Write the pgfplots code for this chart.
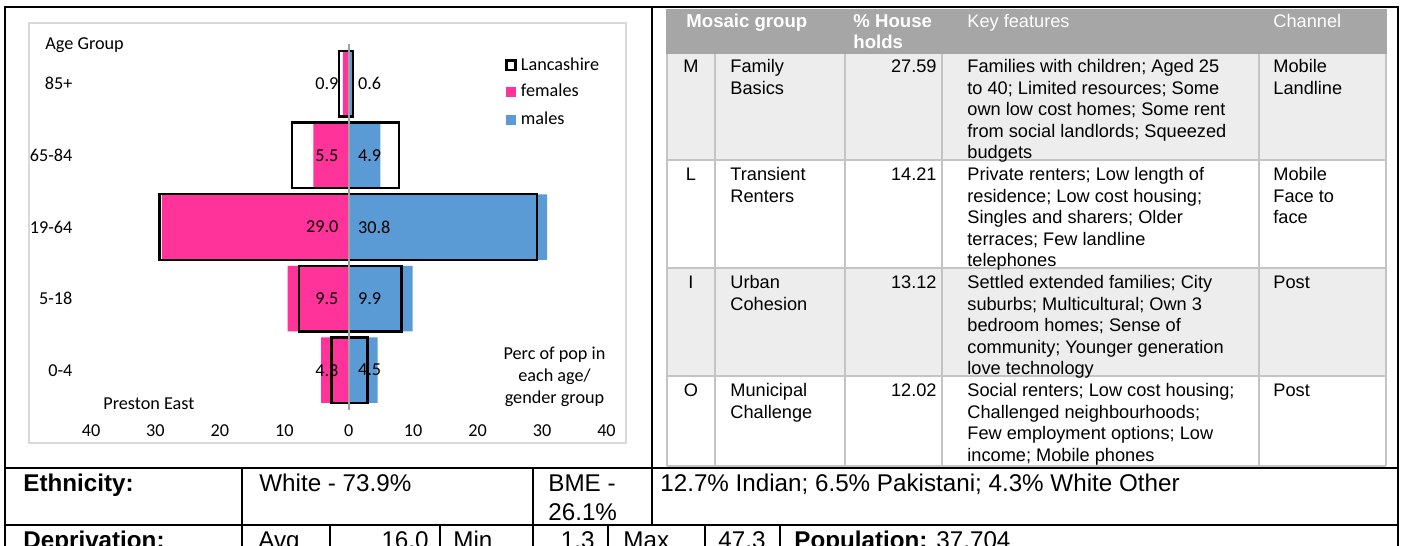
\documentclass[border=0pt]{standalone}
\usepackage{pgfplots}
\pgfplotsset{compat=1.18}
\usepackage{pgfplotstable}
\usepackage{fontspec}
\setmainfont{Liberation Sans}
\newfontfamily\calibri{Carlito}
\definecolor{fem}{HTML}{FF3399}
\definecolor{mal}{HTML}{5B9BD5}
\definecolor{hdr}{HTML}{A6A6A6}
\definecolor{rowg}{HTML}{EDEDED}
\definecolor{tline}{HTML}{C4C4C4}
\definecolor{cframe}{HTML}{D9D9D9}
\definecolor{zline}{HTML}{A0A0A0}
\newcommand\tf{\fontsize{9.1}{11}\selectfont}
\newcommand\hf{\fontsize{9.3}{11}\selectfont}
\newcommand\bigf{\fontsize{12.1}{14}\selectfont}
\newcommand\cf{\calibri\fontsize{9.1}{11}\selectfont}

\pgfplotstableread{
pos female male lfemale lmale
0 4.3 4.5 2.7 2.9
1 9.5 9.9 7.7 8.2
2 29.0 30.8 29.4 29.2
3 5.5 4.9 8.8 7.8
4 0.9 0.6 1.5 0.7
}\pyr

\newcommand\lines[3]{%
  \foreach \t [count=\i from 0] in {#3} {%
    \node[anchor=base west, inner sep=0pt, font=\tf] at (#1,{#2+21.5*\i}) {\t};}}

\begin{document}
\begin{tikzpicture}
\begin{scope}[x=0.5pt,y=-0.5pt]
\useasboundingbox (0,0) rectangle (1405,546);
\fill[white] (0,0) rectangle (1405,546);
% chart area frame
\draw[cframe, line width=0.7pt] (29,23) rectangle (626,443);
% table fills
\fill[hdr] (666,9) rectangle (1387,54);
\fill[rowg] (667,54) rectangle (1386,160);
\fill[rowg] (667,268) rectangle (1386,376);
\draw[tline, line width=0.6pt] (667,54)--(667,466) (715,54)--(715,466) (845,54)--(845,466)
  (942,54)--(942,466) (1259,54)--(1259,466) (1386,54)--(1386,466);
\draw[tline, line width=0.6pt] (667,160)--(1386,160) (667,268)--(1386,268)
  (667,376)--(1386,376) (667,466)--(1386,466);
% black frame lines
\draw[black, line width=1pt, line cap=rect] (5,7)--(1398,7) (5,7)--(5,560) (1398,7)--(1398,560)
  (652,7)--(652,525) (5,468)--(1398,468) (5,525)--(1398,525)
  (242,468)--(242,560) (533,468)--(533,560)
  (330,525)--(330,560) (440,525)--(440,560) (608,525)--(608,560)
  (705,525)--(705,560) (780,525)--(780,560);
% header
\node[anchor=base west, inner sep=0pt, text=white, font=\hf\bfseries] at (686,27.4) {Mosaic group};
\node[anchor=base west, inner sep=0pt, text=white, font=\hf\bfseries] at (853,27.4) {\% House};
\node[anchor=base west, inner sep=0pt, text=white, font=\hf\bfseries] at (853,48.9) {holds};
\node[anchor=base west, inner sep=0pt, text=white, font=\tf] at (967,27.4) {Key features};
\node[anchor=base west, inner sep=0pt, text=white, font=\tf] at (1273,27.4) {Channel};
% row M
\node[anchor=base, inner sep=0pt, font=\tf] at (691,72.7) {M};
\lines{730}{72.7}{Family,Basics}
\node[anchor=base east, inner sep=0pt, font=\tf] at (937,72.7) {27.59};
\lines{967}{72.7}{{Families with children; Aged 25},{to 40; Limited resources; Some},{own low cost homes; Some rent},{from social landlords; Squeezed},budgets}
\lines{1273}{72.7}{Mobile,Landline}
% row L
\node[anchor=base, inner sep=0pt, font=\tf] at (691,180.5) {L};
\lines{730}{180.5}{Transient,Renters}
\node[anchor=base east, inner sep=0pt, font=\tf] at (937,180.5) {14.21};
\lines{967}{180.5}{{Private renters; Low length of},{residence; Low cost housing;},{Singles and sharers; Older},{terraces; Few landline},telephones}
\lines{1273}{180.5}{Mobile,{Face to},face}
% row I
\node[anchor=base, inner sep=0pt, font=\tf] at (691,288.5) {I};
\lines{730}{288.5}{Urban,Cohesion}
\node[anchor=base east, inner sep=0pt, font=\tf] at (937,288.5) {13.12};
\lines{967}{288.5}{{Settled extended families; City},{suburbs; Multicultural; Own 3},{bedroom homes; Sense of},{community; Younger generation},{love technology}}
\lines{1273}{288.5}{Post}
% row O
\node[anchor=base, inner sep=0pt, font=\tf] at (691,396.5) {O};
\lines{730}{396.5}{Municipal,Challenge}
\node[anchor=base east, inner sep=0pt, font=\tf] at (937,396.5) {12.02};
\lines{967}{396.5}{{Social renters; Low cost housing;},{Challenged neighbourhoods;},{Few employment options; Low},{income; Mobile phones}}
\lines{1273}{396.5}{Post}
% bottom rows
\node[anchor=base west, inner sep=0pt, font=\bigf\bfseries] at (23,491.6) {Ethnicity:};
\node[anchor=base west, inner sep=0pt, font=\bigf] at (259,491.6) {White - 73.9\%};
\node[anchor=base west, inner sep=0pt, font=\bigf] at (548,491.6) {BME -};
\node[anchor=base west, inner sep=0pt, font=\bigf] at (548,520.6) {26.1\%};
\node[anchor=base west, inner sep=0pt, font=\bigf] at (660,491.6) {12.7\% Indian; 6.5\% Pakistani; 4.3\% White Other};
\node[anchor=base west, inner sep=0pt, font=\bigf\bfseries] at (23,548) {Deprivation:};
\node[anchor=base west, inner sep=0pt, font=\bigf] at (258,548) {Avg};
\node[anchor=base east, inner sep=0pt, font=\bigf] at (429,548) {16.0};
\node[anchor=base west, inner sep=0pt, font=\bigf] at (453,548) {Min};
\node[anchor=base east, inner sep=0pt, font=\bigf] at (595,548) {1.3};
\node[anchor=base west, inner sep=0pt, font=\bigf] at (623,548) {Max};
\node[anchor=base west, inner sep=0pt, font=\bigf] at (718,548) {47.3};
\node[anchor=base west, inner sep=0pt, font=\bigf] at (794,548) {\textbf{Population:} 37,704};
% chart texts
\node[anchor=base west, inner sep=0pt, font=\cf] at (45,49) {Age Group};
\node[anchor=base west, inner sep=0pt, font=\cf] at (103,409) {Preston East};
\node[anchor=base, inner sep=0pt, font=\cf] at (554.5,359) {Perc of pop in};
\node[anchor=base, inner sep=0pt, font=\cf] at (554.5,381) {each age/};
\node[anchor=base, inner sep=0pt, font=\cf] at (554.5,403) {gender group};
% legend
\draw[black, line width=1.4pt] (506.5,60.5) rectangle (515.5,70);
\fill[fem] (506,87) rectangle (516,97);
\fill[mal] (506,114.5) rectangle (516,124.5);
\node[anchor=base west, inner sep=0pt, font=\cf] at (520.5,70) {Lancashire};
\node[anchor=base west, inner sep=0pt, font=\cf] at (520.5,97) {females};
\node[anchor=base west, inner sep=0pt, font=\cf] at (520.5,124) {males};
\end{scope}

\begin{axis}[
  at={(45.5pt,-203pt)}, anchor=south west,
  scale only axis, width=257.75pt, height=179pt,
  xmin=-40, xmax=40, ymin=-0.5, ymax=4.5,
  axis line style={draw=none}, tick style={draw=none}, major tick length=0pt,
  xtick={-40,-30,...,40}, xticklabels={40,30,20,10,0,10,20,30,40},
  ytick={0,1,2,3,4}, yticklabels={0-4,5-18,19-64,65-84,85+},
  tick label style={font=\cf},
  xticklabel style={yshift=-6pt},
  yticklabel style={xshift=-5.75pt},
  /pgf/number format/assume math mode=true,
  clip=false,
]
\addplot[xbar, bar shift=0pt, bar width=32.75pt, fill=fem, draw=none, forget plot]
  table[x expr=-\thisrow{female}, y=pos] {\pyr};
\addplot[xbar, bar shift=0pt, bar width=32.75pt, fill=mal, draw=none, forget plot]
  table[x=male, y=pos] {\pyr};
\addplot[xbar, bar shift=0pt, bar width=32.75pt, fill=none, draw=black, line width=1.2pt, forget plot]
  table[x expr=-\thisrow{lfemale}, y=pos] {\pyr};
\addplot[xbar, bar shift=0pt, bar width=32.75pt, fill=none, draw=black, line width=1.2pt, forget plot]
  table[x=lmale, y=pos] {\pyr};
\addplot[forget plot, draw=none, mark=none, point meta=explicit,
  nodes near coords={\pgfmathprintnumber[fixed,fixed zerofill,precision=1]{\pgfplotspointmeta}},
  every node near coord/.append style={anchor=east, inner sep=0pt, xshift=-5pt, font=\cf, text=black}]
  table[x expr=0, y=pos, meta=female] {\pyr};
\addplot[forget plot, draw=none, mark=none, point meta=explicit,
  nodes near coords={\pgfmathprintnumber[fixed,fixed zerofill,precision=1]{\pgfplotspointmeta}},
  every node near coord/.append style={anchor=west, inner sep=0pt, xshift=4.5pt, font=\cf, text=black}]
  table[x expr=0, y=pos, meta=male] {\pyr};
\draw[zline, line width=1pt] (axis cs:0,-0.55) -- (axis cs:0,4.55);
\end{axis}
\end{tikzpicture}
\end{document}
